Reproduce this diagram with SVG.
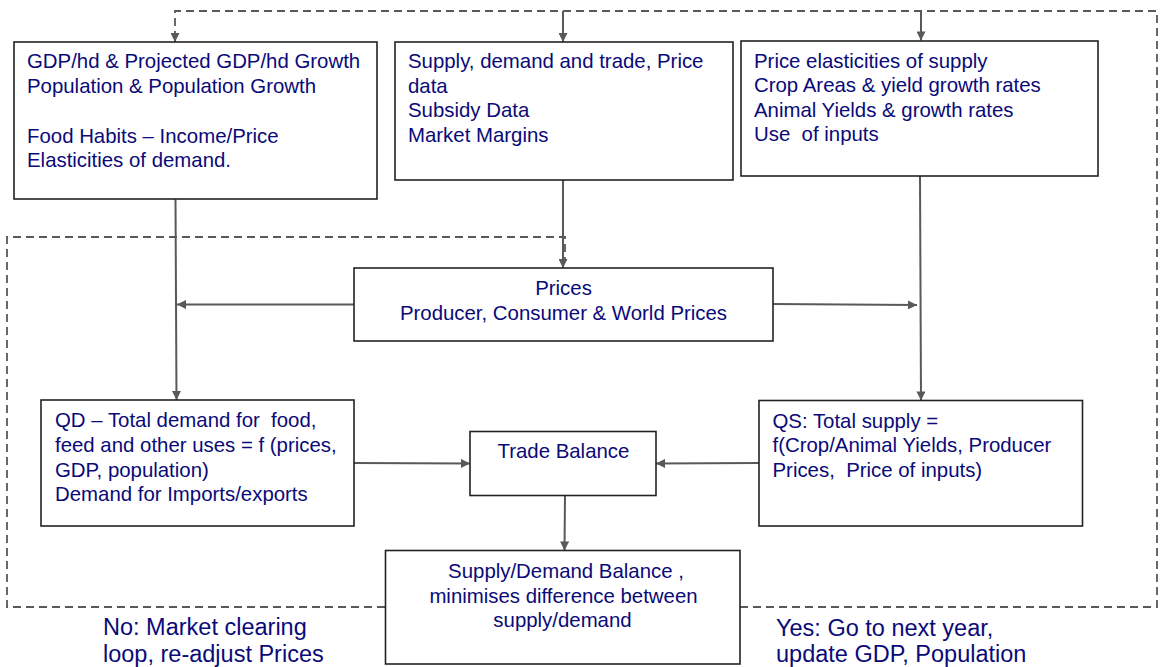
<svg xmlns="http://www.w3.org/2000/svg" width="1161" height="667" viewBox="0 0 1161 667">
<style>
.box{fill:#fff;stroke:#222;stroke-width:1.6}
.t{font-family:"Liberation Sans",Arial,sans-serif;font-size:20.4px;fill:#0a0a78;white-space:pre}
.big{font-family:"Liberation Sans",Arial,sans-serif;font-size:23.5px;fill:#0a0a78}
.c{text-anchor:middle}
.ln{fill:none;stroke:#595959;stroke-width:2}
.dash{fill:none;stroke:#595959;stroke-width:1.8;stroke-dasharray:8 5}
</style>
<defs>
<marker id="arr" viewBox="0 0 10 10" refX="10" refY="5" markerWidth="10" markerHeight="9" markerUnits="userSpaceOnUse" orient="auto">
<path d="M0,0 L10,5 L0,10 z" fill="#595959"/>
</marker>
</defs>
<rect width="1161" height="667" fill="#fff"/>
<g id="connectors">
<polyline class="dash" points="740,607 1157,607 1157,11 175,11 175,33"/>
<line class="ln" x1="175" y1="33" x2="175" y2="42" marker-end="url(#arr)"/>
<line class="ln" x1="563" y1="11" x2="563" y2="42" marker-end="url(#arr)"/>
<line class="ln" x1="921" y1="11" x2="921" y2="40.5" marker-end="url(#arr)"/>
<polyline class="dash" points="385,607 7,607 7,237 565,237 565,262"/>
<line class="ln" x1="175.5" y1="199" x2="176.5" y2="400" marker-end="url(#arr)"/>
<line class="ln" x1="563" y1="180" x2="563" y2="268" marker-end="url(#arr)"/>
<line class="ln" x1="920" y1="176" x2="921" y2="400.5" marker-end="url(#arr)"/>
<line class="ln" x1="354" y1="304.5" x2="177" y2="304.5" marker-end="url(#arr)"/>
<line class="ln" x1="773" y1="304" x2="917" y2="305" marker-end="url(#arr)"/>
<line class="ln" x1="354" y1="463" x2="470" y2="463.5" marker-end="url(#arr)"/>
<line class="ln" x1="759" y1="463" x2="656" y2="463.5" marker-end="url(#arr)"/>
<line class="ln" x1="565" y1="495" x2="564.5" y2="550.5" marker-end="url(#arr)"/>
</g>
<g id="node-gdp">
<rect class="box" x="14" y="42" width="363" height="157"/>
<text class="t" x="27" y="68">GDP/hd &amp; Projected GDP/hd Growth</text>
<text class="t" x="27" y="92.5">Population &amp; Population Growth</text>
<text class="t" x="27" y="142.5">Food Habits – Income/Price</text>
<text class="t" x="27" y="166.5">Elasticities of demand.</text>
</g>
<g id="node-data">
<rect class="box" x="395" y="42" width="338" height="138"/>
<text class="t" x="408" y="68">Supply, demand and trade, Price</text>
<text class="t" x="408" y="92.5">data</text>
<text class="t" x="408" y="117">Subsidy Data</text>
<text class="t" x="408" y="142">Market Margins</text>
</g>
<g id="node-elast">
<rect class="box" x="741" y="41" width="357" height="135"/>
<text class="t" x="754" y="67.5">Price elasticities of supply</text>
<text class="t" x="754" y="92">Crop Areas &amp; yield growth rates</text>
<text class="t" x="754" y="116.5">Animal Yields &amp; growth rates</text>
<text class="t" x="754" y="141">Use  of inputs</text>
</g>
<g id="node-prices">
<rect class="box" x="354" y="268" width="419" height="73"/>
<text class="t c" x="563.5" y="295">Prices</text>
<text class="t c" x="563.5" y="319.5">Producer, Consumer &amp; World Prices</text>
</g>
<g id="node-qd">
<rect class="box" x="41" y="400" width="313" height="126"/>
<text class="t" x="55" y="427">QD – Total demand for  food,</text>
<text class="t" x="55" y="452">feed and other uses = f (prices,</text>
<text class="t" x="55" y="476.5">GDP, population)</text>
<text class="t" x="55" y="501">Demand for Imports/exports</text>
</g>
<g id="node-trade">
<rect class="box" x="470" y="431.5" width="186" height="64"/>
<text class="t" x="497.5" y="458">Trade Balance</text>
</g>
<g id="node-qs">
<rect class="box" x="759" y="400.5" width="323.5" height="125.5"/>
<text class="t" x="772.5" y="427.5">QS: Total supply =</text>
<text class="t" x="772.5" y="452">f(Crop/Animal Yields, Producer</text>
<text class="t" x="772.5" y="476.5">Prices,  Price of inputs)</text>
</g>
<g id="node-sd">
<rect class="box" x="385.5" y="550.5" width="354.5" height="113.5"/>
<text class="t c" x="566" y="578">Supply/Demand Balance ,</text>
<text class="t c" x="563.5" y="602.5">minimises difference between</text>
<text class="t c" x="562.5" y="626.5">supply/demand</text>
</g>
<g id="labels">
<text class="big" x="103" y="635">No: Market clearing</text>
<text class="big" x="103" y="661.5">loop, re-adjust Prices</text>
<text class="big" x="776" y="636">Yes: Go to next year,</text>
<text class="big" x="776" y="661.5">update GDP, Population</text>
</g>
</svg>
